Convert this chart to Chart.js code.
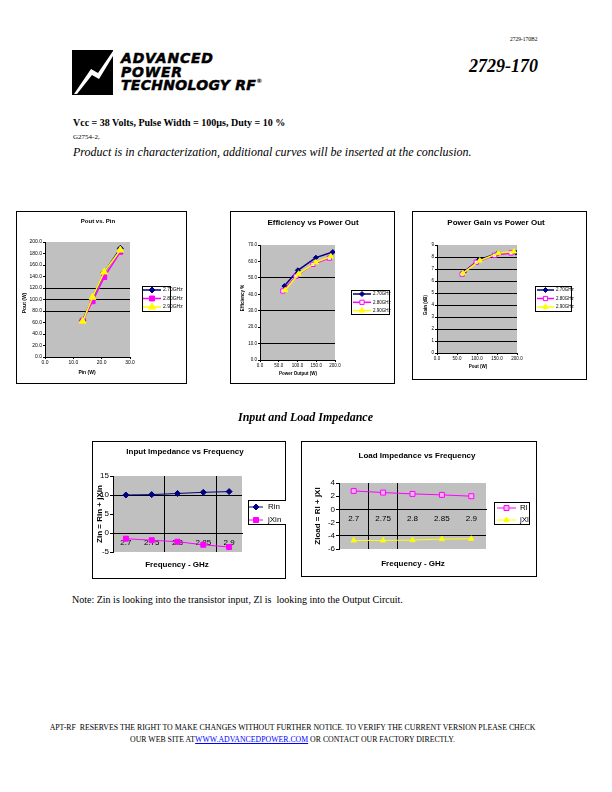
<!DOCTYPE html>
<html>
<head>
<meta charset="utf-8">
<script src="https://cdn.jsdelivr.net/npm/chart.js@4.4.0/dist/chart.umd.min.js"></script>
<style>
html, body { margin: 0; padding: 0; background: #fff; }
#page { position: relative; width: 612px; height: 792px; overflow: hidden; }
.t { position: absolute; white-space: nowrap; line-height: 1; color: #000; }
.serif { font-family: "Liberation Serif", "Times New Roman", serif; }
.sans { font-family: "Liberation Sans", Arial, sans-serif; font-weight: bold; }
.logo { font-family: "DejaVu Sans", sans-serif; font-weight: bold; font-style: oblique; font-size: 14px; -webkit-text-stroke: 0.5px #000; }
.c { transform: translate(-50%, -50%); }
.r { transform: translate(-50%, -50%) rotate(-90deg); }
.box { position: absolute; outline: 1px solid #000; outline-offset: -1px; }
.box canvas { position: absolute; left: 0; top: 0; }
a { color: #0000ff; }
</style>
</head>
<body>
<div id="page">
  <div class="t serif" style="left:510px;top:37px;font-size:5.5px;">2729-170B2</div>

  <svg style="position:absolute;left:72px;top:50px" width="42" height="46" viewBox="0 0 42 46">
    <rect x="0" y="0" width="41" height="45" fill="#000"/>
    <polygon fill="#fff" points="2,44 19,19 26,23 41,1 41,6 27,29 20,25 5,44"/>
  </svg>
  <div class="t logo" style="left:121px;top:51px;letter-spacing:0.8px;">ADVANCED</div>
  <div class="t logo" style="left:121px;top:65px;letter-spacing:0.8px;">POWER</div>
  <div class="t logo" style="left:121px;top:78px;letter-spacing:0.3px;">TECHNOLOGY RF<span style="font-size:6px;vertical-align:top;-webkit-text-stroke:0;">®</span></div>

  <div class="t serif" style="left:469px;top:57px;font-size:18px;font-weight:bold;font-style:italic;">2729-170</div>

  <div class="t serif" style="left:73px;top:118px;font-size:10px;font-weight:bold;">Vcc = 38 Volts, Pulse Width = 100µs, Duty = 10 %</div>
  <div class="t serif" style="left:73px;top:134px;font-size:7px;">G2754-2,</div>
  <div class="t serif" style="left:73px;top:146px;font-size:12px;font-style:italic;">Product is in characterization, additional curves will be inserted at the conclusion.</div>

  <div class="box" style="left:16px;top:211px;width:171px;height:173px;"><canvas id="poutChart" width="171" height="173"></canvas></div>
  <div class="box" style="left:230px;top:211px;width:165px;height:173px;"><canvas id="effChart" width="165" height="173"></canvas></div>
  <div class="box" style="left:412px;top:211px;width:175px;height:169px;"><canvas id="gainChart" width="175" height="169"></canvas></div>

  <div class="t sans c" style="left:98px;top:221px;font-size:6px;">Pout vs. Pin</div>
  <div class="t sans r" style="left:24px;top:303px;font-size:5px;">Pout (W)</div>
  <div class="t sans c" style="left:87px;top:372px;font-size:5px;">Pin (W)</div>

  <div class="t sans c" style="left:313px;top:223px;font-size:8px;">Efficiency vs Power Out</div>
  <div class="t sans r" style="left:243px;top:298px;font-size:4.5px;">Efficiency %</div>
  <div class="t sans c" style="left:298px;top:374px;font-size:4.5px;">Power Output (W)</div>

  <div class="t sans c" style="left:496px;top:223px;font-size:8px;">Power Gain vs Power Out</div>
  <div class="t sans r" style="left:426px;top:305px;font-size:4.5px;">Gain (dB)</div>
  <div class="t sans c" style="left:478px;top:367px;font-size:4.5px;">Pout (W)</div>

  <div class="t serif" style="left:238px;top:411px;font-size:12px;font-weight:bold;font-style:italic;">Input and Load Impedance</div>

  <div class="box" style="left:92px;top:441px;width:194px;height:138px;"><canvas id="zinChart" width="194" height="138"></canvas></div>
  <div class="box" style="left:301px;top:441px;width:236px;height:136px;"><canvas id="zlChart" width="236" height="136"></canvas></div>

  <div class="t sans c" style="left:185px;top:452px;font-size:8px;">Input Impedance vs Frequency</div>
  <div class="t sans r" style="left:100px;top:514px;font-size:8px;">Zin = Rin + jXin</div>
  <div class="t sans c" style="left:177px;top:565px;font-size:8px;">Frequency - GHz</div>

  <div class="t sans c" style="left:417px;top:456px;font-size:8px;">Load Impedance vs Frequency</div>
  <div class="t sans r" style="left:318px;top:516px;font-size:8px;">Zload = Rl + jXl</div>
  <div class="t sans c" style="left:413px;top:564px;font-size:8px;">Frequency - GHz</div>

  <div class="t serif" style="left:72px;top:595px;font-size:10px;">Note: Zin is looking into the transistor input, Zl is &nbsp;looking into the Output Circuit.</div>

  <div class="t serif" style="left:0;width:585px;text-align:center;top:724px;font-size:7.8px;">APT-RF &nbsp;RESERVES THE RIGHT TO MAKE CHANGES WITHOUT FURTHER NOTICE. TO VERIFY THE CURRENT VERSION PLEASE CHECK</div>
  <div class="t serif" style="left:0;width:585px;text-align:center;top:736px;font-size:7.8px;">OUR WEB SITE AT<a href="#">WWW.ADVANCEDPOWER.COM</a> OR CONTACT OUR FACTORY DIRECTLY.</div>
</div>

<script>
// ---- datos ----
const seriesNames = ['2.70GHz', '2.80GHz', '2.90GHz'];

// Pout vs. Pin
const pinW = [13.3, 16.8, 20.9, 26.6];
const pout270 = [64, 102, 147, 189];
const pout280 = [63, 97, 139, 183];
const pout290 = [62, 104, 148, 186];
const poutGridAt = [80, 100, 120];

// Efficiency vs Power Out
const effPout270 = [65, 101, 149, 194];
const eff270 = [45.0, 54.6, 62.3, 65.7];
const effPout280 = [61, 96, 141, 185];
const eff280 = [42.0, 51.0, 58.2, 62.0];
const effPout290 = [67, 103, 149, 189];
const eff290 = [42.4, 52.5, 59.4, 63.0];
const effGridAt = [10, 30, 50];

// Power Gain vs Power Out
const gainPout270 = [67.5, 104, 152, 197];
const gain270 = [6.76, 7.76, 8.31, 8.37];
const gainPout280 = [63, 98, 144, 185];
const gain280 = [6.57, 7.56, 8.14, 8.34];
const gainPout290 = [65, 107, 153, 192.5];
const gain290 = [6.65, 7.70, 8.31, 8.45];
const gainGridAt = [1, 2, 3, 4, 5, 6, 7, 8];

// Impedancias
const freqGHz = ['2.7', '2.75', '2.8', '2.85', '2.9'];
const rin = [10.0, 10.1, 10.4, 10.7, 10.9];
const xin = [-1.5, -1.9, -2.3, -3.1, -3.7];
const rl = [2.8, 2.55, 2.35, 2.2, 2.0];
const xl = [-4.7, -4.7, -4.65, -4.5, -4.45];
const zinGridAt = [10];
const zinVLines = [2, 4];
const zlGridAt = [-4];
const zlVLines = [1, 2];

const FONT = '"Liberation Sans", Arial, sans-serif';
const NONE = 'rgba(0,0,0,0)';

// fondo gris del area de trazado
const plotBg = {
    id: 'plotBg',
    beforeDraw(chart) {
        const { ctx, chartArea: a } = chart;
        ctx.save();
        ctx.fillStyle = '#c0c0c0';
        ctx.fillRect(a.left, a.top, a.right - a.left, a.bottom - a.top);
        ctx.restore();
    }
};

// leyenda con recuadro estilo Excel
const boxLegend = {
    id: 'boxLegend',
    afterDraw(chart, args, o) {
        if (!o || !o.box) return;
        const ctx = chart.ctx;
        const [x, y, w, h] = o.box;
        ctx.save();
        ctx.fillStyle = '#fff';
        ctx.fillRect(x, y, w, h);
        ctx.strokeStyle = '#000';
        ctx.lineWidth = 1;
        ctx.strokeRect(x + 0.5, y + 0.5, w - 1, h - 1);
        ctx.font = o.fontSize + 'px ' + FONT;
        ctx.textBaseline = 'middle';
        ctx.textAlign = 'left';
        chart.data.datasets.forEach((ds, i) => {
            const ry = y + o.firstRow + i * o.rowGap;
            const x0 = x + o.lineStart, x1 = x0 + o.lineLen;
            ctx.strokeStyle = ds.borderColor;
            ctx.lineWidth = ds.borderWidth;
            ctx.beginPath(); ctx.moveTo(x0, ry); ctx.lineTo(x1, ry); ctx.stroke();
            ctx.fillStyle = ds.pointBackgroundColor;
            ctx.strokeStyle = ds.pointBorderColor;
            ctx.lineWidth = 1;
            Chart.helpers.drawPoint(ctx, { pointStyle: ds.pointStyle, radius: ds.pointRadius, rotation: 0, borderWidth: 1 }, (x0 + x1) / 2, ry);
            ctx.fillStyle = '#000';
            ctx.fillText(ds.label, x1 + o.textGap, ry);
        });
        ctx.restore();
    }
};

const looks = [
    { color: '#000080', fill: '#000080', shape: 'rectRot' },
    { color: '#ff00ff', fill: '#ffffff', shape: 'rect' },
    { color: '#ffff00', fill: '#ffff00', shape: 'triangle' }
];

const pts = (xs, ys) => xs.map((x, i) => ({ x: x, y: ys[i] }));

function serie(label, data, look, radius, width, order, fill) {
    return {
        label, data, order, showLine: true, tension: 0,
        borderColor: look.color, backgroundColor: look.color, borderWidth: width,
        pointStyle: look.shape, pointRadius: radius, pointHoverRadius: radius,
        pointBackgroundColor: fill || look.fill, pointBorderColor: look.color, pointBorderWidth: 1
    };
}

function valueAxis(min, max, step, size, decimals, gridAt, onArea) {
    return {
        type: 'linear', min, max,
        ticks: { stepSize: step, font: { size, family: FONT }, color: '#000', padding: 1, callback: v => v.toFixed(decimals) },
        grid: {
            color: c => (c.tick && gridAt.includes(c.tick.value)) ? '#000' : NONE,
            drawOnChartArea: onArea, tickColor: '#000', tickLength: 2, lineWidth: 1
        },
        border: { color: '#000', width: 1 }
    };
}

// box y plot en coordenadas de pagina: [left, top, width, height] y [l, t, r, b]
function baseOptions(box, plot, yw, xh, legend) {
    const rel = legend.box;
    return {
        responsive: false, animation: false, devicePixelRatio: 1,
        layout: { padding: {
            left: plot[0] - box[0] - yw, top: plot[1] - box[1],
            right: box[0] + box[2] - plot[2], bottom: box[1] + box[3] - plot[3] - xh
        } },
        plugins: {
            legend: { display: false }, title: { display: false }, tooltip: { enabled: false },
            boxLegend: Object.assign({}, legend, { box: [rel[0] - box[0], rel[1] - box[1], rel[2], rel[3]] })
        }
    };
}

function scatterChart(id, box, plot, yw, xh, datasets, xAxis, yAxis, legend) {
    const opts = baseOptions(box, plot, yw, xh, legend);
    xAxis.afterFit = s => { s.height = xh; };
    yAxis.afterFit = s => { s.width = yw; };
    opts.scales = { x: xAxis, y: yAxis };
    return new Chart(document.getElementById(id), { type: 'scatter', data: { datasets }, options: opts, plugins: [plotBg, boxLegend] });
}

// Pout vs. Pin
scatterChart('poutChart', [16, 211, 171, 173], [45, 242, 130, 357], 22, 12, [
    serie(seriesNames[0], pts(pinW, pout270), looks[0], 3, 1.5, 3),
    serie(seriesNames[1], pts(pinW, pout280), looks[1], 3.5, 1.5, 2, '#ff00ff'),
    serie(seriesNames[2], pts(pinW, pout290), looks[2], 4, 1.5, 1)
], valueAxis(0, 30, 10, 5, 1, [], false), valueAxis(0, 200, 20, 5, 1, poutGridAt, true),
{ box: [142, 286, 29, 26], firstRow: 4, rowGap: 8.5, lineStart: 1, lineLen: 18, textGap: 2, fontSize: 5 });

// Efficiency vs Power Out
scatterChart('effChart', [230, 211, 165, 173], [260, 245, 335, 360], 22, 12, [
    serie(seriesNames[0], pts(effPout270, eff270), looks[0], 2.5, 1.5, 3),
    serie(seriesNames[1], pts(effPout280, eff280), looks[1], 3, 1.5, 2),
    serie(seriesNames[2], pts(effPout290, eff290), looks[2], 3, 1.5, 1)
], valueAxis(0, 200, 50, 4.5, 1, [], false), valueAxis(0, 70, 10, 4.5, 1, effGridAt, true),
{ box: [351, 290, 39, 25], firstRow: 4, rowGap: 8.3, lineStart: 2, lineLen: 18, textGap: 2, fontSize: 4.5 });

// Power Gain vs Power Out
scatterChart('gainChart', [412, 211, 175, 169], [437, 245, 517, 353], 18, 12, [
    serie(seriesNames[0], pts(gainPout270, gain270), looks[0], 2.5, 1.5, 3),
    serie(seriesNames[1], pts(gainPout280, gain280), looks[1], 3, 1.5, 2),
    serie(seriesNames[2], pts(gainPout290, gain290), looks[2], 3, 1.5, 1)
], valueAxis(0, 200, 50, 4.5, 1, [], false), valueAxis(0, 9, 1, 4.5, 0, gainGridAt, true),
{ box: [535, 286, 37, 26], firstRow: 4, rowGap: 8.5, lineStart: 2, lineLen: 17, textGap: 2, fontSize: 4.5 });

function freqChart(id, box, plot, yw, datasets, yAxis, vLines, legend) {
    const opts = baseOptions(box, plot, yw, 0, legend);
    yAxis.afterFit = s => { s.width = yw; };
    yAxis.grid.tickLength = 3;
    opts.scales = {
        x: {
            type: 'category', position: { y: 0 }, offset: true,
            ticks: { font: { size: 8, family: FONT }, color: '#000', padding: 5, maxRotation: 0, autoSkip: false },
            grid: { offset: true, color: c => vLines.includes(c.index) ? '#000' : NONE, drawTicks: false },
            border: { color: '#000', width: 1 }
        },
        y: yAxis
    };
    return new Chart(document.getElementById(id), { type: 'line', data: { labels: freqGHz, datasets }, options: opts, plugins: [plotBg, boxLegend] });
}

freqChart('zinChart', [92, 441, 194, 138], [113, 476, 242, 552], 20, [
    serie('Rin', rin, looks[0], 3, 1, 2),
    serie('jXin', xin, looks[1], 3.5, 1, 1, '#ff00ff')
], valueAxis(-5, 15, 5, 8, 0, zinGridAt, true), zinVLines,
{ box: [248, 500, 39, 25], firstRow: 7, rowGap: 13, lineStart: 1, lineLen: 14, textGap: 5, fontSize: 8 });

freqChart('zlChart', [301, 441, 236, 136], [339, 483, 486, 549], 20, [
    serie('Rl', rl, looks[1], 3.5, 1, 2, '#ffb3ff'),
    serie('jXl', xl, looks[2], 3, 1, 1)
], valueAxis(-6, 4, 2, 8, 0, zlGridAt, true), zlVLines,
{ box: [494, 502, 36, 23], firstRow: 6, rowGap: 12, lineStart: 3, lineLen: 19, textGap: 4, fontSize: 8 });
</script>
</body>
</html>
